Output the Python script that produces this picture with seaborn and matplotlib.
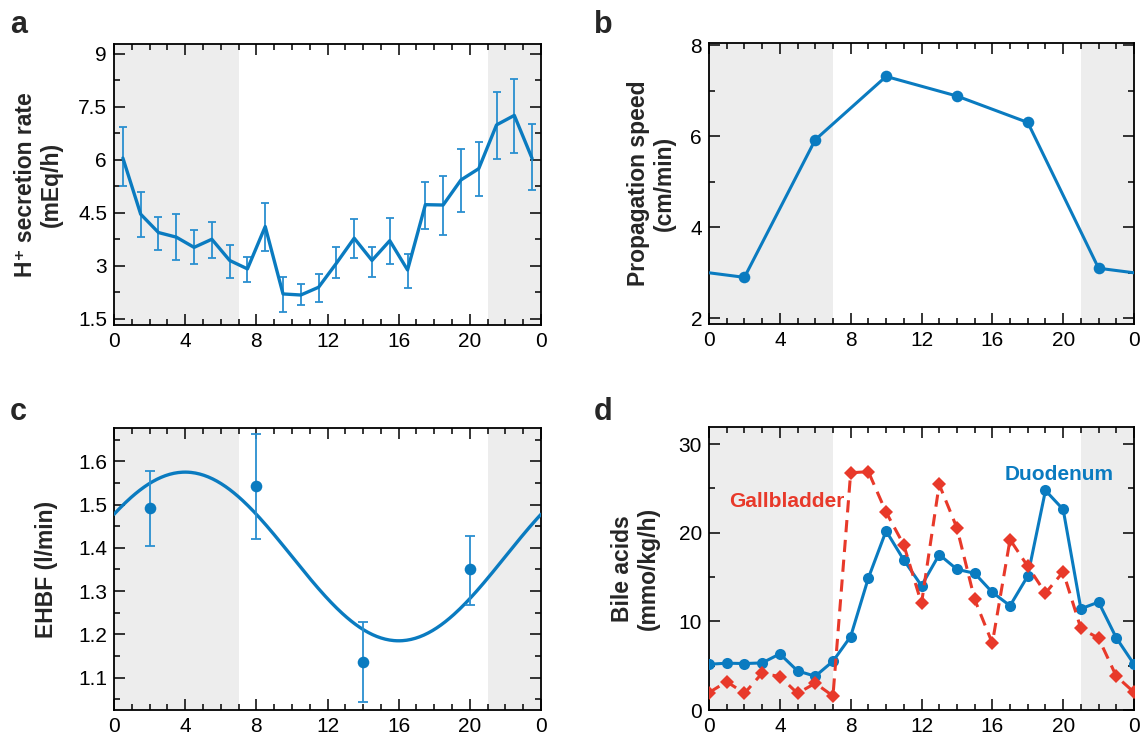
import numpy as np
import pandas as pd
import matplotlib
matplotlib.use("Agg")
import matplotlib.pyplot as plt
import seaborn as sns
from matplotlib.ticker import MultipleLocator, FixedLocator

sns.set_theme(style="white")
plt.rcParams['font.family'] = ['Liberation Sans', 'DejaVu Sans']

# ---------------- data ----------------
# panel a: H+ secretion rate
a_hours = [0.5, 1.5, 2.5, 3.5, 4.5, 5.5, 6.5, 7.5, 8.5, 9.5, 10.5, 11.5,
           12.5, 13.5, 14.5, 15.5, 16.5, 17.5, 18.5, 19.5, 20.5, 21.5, 22.5, 23.5]
a_rate = [6.05, 4.46, 3.94, 3.81, 3.52, 3.75, 3.15, 2.91, 4.11, 2.20, 2.17, 2.39,
          3.07, 3.78, 3.15, 3.71, 2.88, 4.73, 4.72, 5.43, 5.75, 6.99, 7.26, 6.04]
a_err_hi = [6.94, 5.10, 4.39, 4.46, 4.00, 4.25, 3.60, 3.26, 4.77, 2.67, 2.47, 2.77,
            3.54, 4.32, 3.54, 4.35, 3.33, 5.38, 5.55, 6.32, 6.51, 7.93, 8.30, 7.01]
a_err_lo = [5.27, 3.81, 3.45, 3.16, 3.05, 3.22, 2.66, 2.54, 3.42, 1.70, 1.88, 1.98,
            2.64, 3.22, 2.69, 3.04, 2.36, 4.04, 3.87, 4.52, 4.98, 6.02, 6.20, 5.15]

# panel b: propagation speed
b_hours = [0, 2, 6, 10, 14, 18, 22, 24]
b_speed = [3.0, 2.90, 5.92, 7.31, 6.88, 6.30, 3.10, 3.0]
b_marked = [False, True, True, True, True, True, True, False]

# panel c: EHBF
c_hours = [2, 8, 14, 20]
c_ehbf = [1.493, 1.542, 1.137, 1.350]
c_err_hi = [1.577, 1.662, 1.228, 1.428]
c_err_lo = [1.404, 1.421, 1.044, 1.267]
c_fit_mesor = 1.38
c_fit_amplitude = 0.195
c_fit_acrophase = 4.0

# panel d: bile acids
d_hours = list(range(25))
d_duodenum = [5.16, 5.28, 5.24, 5.31, 6.33, 4.41, 3.81, 5.50, 8.29, 14.89, 20.2, 16.92,
              14.02, 17.53, 15.87, 15.42, 13.27, 11.76, 15.11, 24.76, 22.62, 11.42,
              12.17, 8.14, 5.16]
d_gallbladder = [1.96, 3.20, 1.88, 4.15, 3.77, 1.88, 3.02, 1.58, 26.76, 26.88, 22.31, 18.62,
                 12.02, 25.44, 20.54, 12.48, 7.54, 19.22, 16.21, 13.19, 15.57, 9.20,
                 8.10, 3.81, 2.0]

x_ticks = [0, 4, 8, 12, 16, 20, 24]
x_ticklabels = ["0", "4", "8", "12", "16", "20", "0"]
dark_spans = [(0, 7), (21, 24)]

BLUE = "#0A7BC0"
EBLUE = "#2A8FD0"
RED = "#E8392A"
SHADE = "#EDEDED"
TICK_FS = 15
LABEL_FS = 16.5

# ---------------- figure ----------------
W, H = 1143, 735
fig = plt.figure(figsize=(W / 100, H / 100), dpi=100)


def make_ax(l, t, r, b):
    return fig.add_axes([l / W, 1 - b / H, (r - l) / W, (b - t) / H])


ax_a = make_ax(114, 44, 541, 325)
ax_b = make_ax(709, 43, 1134, 324)
ax_c = make_ax(114, 428, 541, 710)
ax_d = make_ax(709, 427, 1134, 710)


def style(ax, ylim, ymajor, yminor, ylabel, labx):
    ax.set_facecolor("white")
    for s0, s1 in dark_spans:
        ax.axvspan(s0, s1, color=SHADE, lw=0, zorder=0)
    ax.set_xlim(0, 24)
    ax.set_ylim(*ylim)
    ax.xaxis.set_major_locator(FixedLocator(x_ticks))
    ax.set_xticklabels(x_ticklabels)
    ax.xaxis.set_minor_locator(MultipleLocator(1))
    ax.yaxis.set_major_locator(ymajor)
    ax.yaxis.set_minor_locator(MultipleLocator(yminor))
    ax.tick_params(which="both", direction="in", top=True, right=True,
                   bottom=True, left=True, color="black", width=1.1)
    ax.tick_params(which="major", length=8, labelsize=TICK_FS, pad=5,
                   labelcolor="black")
    ax.tick_params(which="minor", length=4.5)
    for sp in ax.spines.values():
        sp.set_visible(True)
        sp.set_color("black")
        sp.set_linewidth(1.3)
    ax.set_xlabel("")
    ax.set_ylabel(ylabel, fontsize=LABEL_FS, fontweight="bold", linespacing=1.15)
    ax.yaxis.set_label_coords(labx, 0.5)


# panel a
dfa = pd.DataFrame({"h": a_hours, "v": a_rate})
ax_a.errorbar(a_hours, a_rate,
              yerr=[np.array(a_rate) - np.array(a_err_lo), np.array(a_err_hi) - np.array(a_rate)],
              fmt="none", ecolor=EBLUE, elinewidth=1.3, capsize=3, capthick=1.3, zorder=2)
sns.lineplot(data=dfa, x="h", y="v", ax=ax_a, color=BLUE, lw=2.4, zorder=3)
style(ax_a, (1.32, 9.283), FixedLocator([1.5, 3, 4.5, 6, 7.5, 9]), 0.75,
      "H⁺ secretion rate\n(mEq/h)", -0.12)
ax_a.set_yticklabels(["1.5", "3", "4.5", "6", "7.5", "9"])

# panel b
dfb = pd.DataFrame({"h": b_hours, "v": b_speed, "m": b_marked})
sns.lineplot(data=dfb, x="h", y="v", ax=ax_b, color=BLUE, lw=2.2, zorder=3)
sns.scatterplot(data=dfb[dfb["m"]], x="h", y="v", ax=ax_b, color=BLUE, s=70,
                edgecolor=BLUE, linewidth=0, zorder=4)
style(ax_b, (1.876, 8.044), MultipleLocator(2), 1,
      "Propagation speed\n(cm/min)", -0.078)

# panel c
xs = np.linspace(0, 24, 300)
fit = c_fit_mesor + c_fit_amplitude * np.cos(2 * np.pi * (xs - c_fit_acrophase) / 24)
dfc_fit = pd.DataFrame({"h": xs, "v": fit})
sns.lineplot(data=dfc_fit, x="h", y="v", ax=ax_c, color=BLUE, lw=2.4, zorder=3)
ax_c.errorbar(c_hours, c_ehbf,
              yerr=[np.array(c_ehbf) - np.array(c_err_lo), np.array(c_err_hi) - np.array(c_ehbf)],
              fmt="none", ecolor=EBLUE, elinewidth=1.3, capsize=3.5, capthick=1.3, zorder=4)
dfc = pd.DataFrame({"h": c_hours, "v": c_ehbf})
sns.scatterplot(data=dfc, x="h", y="v", ax=ax_c, color=BLUE, s=70, linewidth=0, zorder=5)
style(ax_c, (1.025, 1.677), MultipleLocator(0.1), 0.05, "EHBF (l/min)", -0.13)

# panel d
dfd = pd.DataFrame({"h": d_hours, "duo": d_duodenum, "gb": d_gallbladder})
sns.lineplot(data=dfd, x="h", y="duo", ax=ax_d, color=BLUE, lw=2.2, marker="o",
             markersize=8, markeredgewidth=0, zorder=3)
sns.lineplot(data=dfd, x="h", y="gb", ax=ax_d, color=RED, lw=2.2, marker="D",
             markersize=7, markeredgewidth=0, zorder=4)
ax_d.lines[-1].set_dashes([4, 2.5])
style(ax_d, (0, 31.92), MultipleLocator(10), 5, "Bile acids\n(mmo/kg/h)", -0.115)
ax_d.text(4.4, 23.5, "Gallbladder", color=RED, fontsize=15, fontweight="bold",
          ha="center", va="center")
ax_d.text(19.8, 26.6, "Duodenum", color=BLUE, fontsize=15, fontweight="bold",
          ha="center", va="center")

# panel letters
for lab, (px, py) in {"a": (10, 33), "b": (594, 33), "c": (10, 420), "d": (594, 420)}.items():
    fig.text(px / W, 1 - py / H, lab, fontsize=22, fontweight="bold", ha="left",
             va="baseline")

fig.savefig("out.png", dpi=100)
